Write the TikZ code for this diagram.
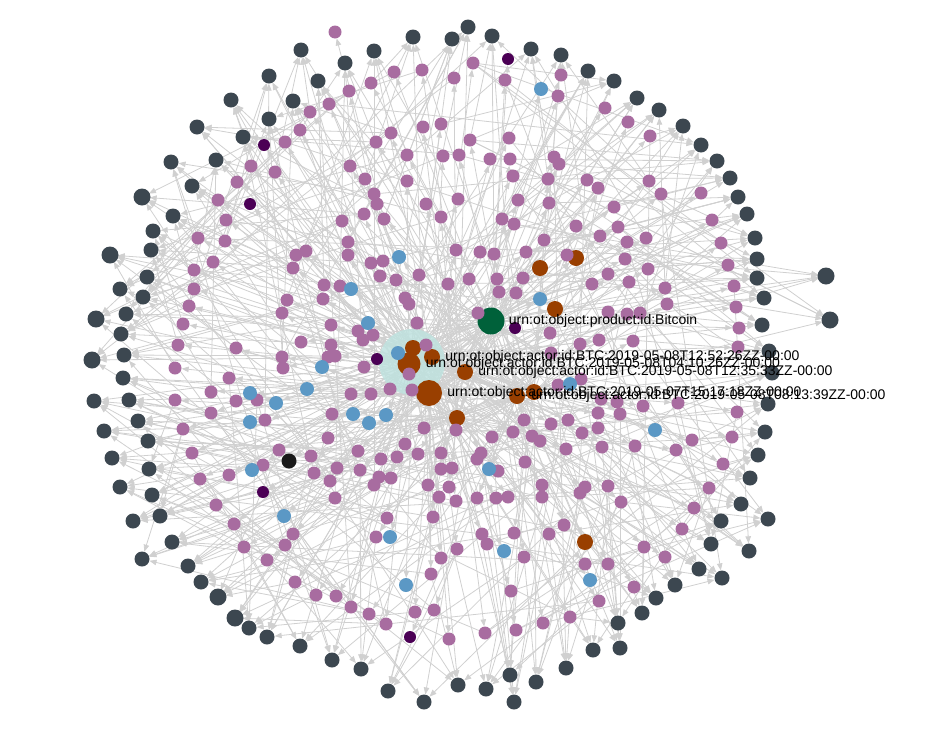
\documentclass[tikz,border=0pt]{standalone}
\usepackage{fontspec}
\setmainfont{Liberation Sans}
\definecolor{OTslate}{HTML}{3C4750}
\definecolor{OTmauve}{HTML}{A86CA0}
\definecolor{OTplum}{HTML}{4B0055}
\definecolor{OTblue}{HTML}{5B98C5}
\definecolor{OTrust}{HTML}{993F00}
\definecolor{OTgreen}{HTML}{00613A}
\definecolor{OTedge}{HTML}{D0D0D0}
\definecolor{OTglow}{HTML}{BFE2DF}
\usetikzlibrary{arrows.meta,positioning,backgrounds}

\begin{document}
\begin{tikzpicture}[x=1pt,y=-1pt,
  dot/.style={circle,inner sep=0pt,minimum size=#1},
  slate/.style={dot=15pt,fill=OTslate},
  bigslate/.style={dot=17pt,fill=OTslate},
  mauve/.style={dot=13pt,fill=OTmauve},
  plum/.style={dot=12pt,fill=OTplum},
  blue/.style={dot=14pt,fill=OTblue},
  rust/.style={dot=16pt,fill=OTrust},
  edge/.style={draw=OTedge,line width=0.8pt,-{Triangle[length=7pt,width=5.5pt]}},
  lbl/.style={inner sep=0pt,font=\fontsize{14}{16}\selectfont}]
  \useasboundingbox (0,0) rectangle (931,742);

  % glow round the actor hubs
  \node[dot=66pt,fill=OTglow,opacity=0.85] (glow) at (412,362) {};

  % hubs
  \node[rust] (h1) at (413,348) {};
  \node[rust] (h2) at (432,357) {};
  \node[rust,dot=23pt] (h3) at (409,364) {};
  \node[rust] (h4) at (465,372) {};
  \node[rust,dot=26pt] (h5) at (429,393) {};
  \node[rust] (h6) at (517,396) {};
  \node[rust] (h7) at (534,392) {};
  \node[rust] (h8) at (457,418) {};
  \node[dot=27pt,fill=OTgreen] (h9) at (491,321) {};
  \foreach \x/\y [count=\i] in {540/268,576/258,555/309,585/542}
    \node[rust] (r\i) at (\x,\y) {};

  % outer ring
  \foreach \x/\y [count=\i] in {301/50,374/51,413/37,452/39,468/27,345/63,318/81,269/76,231/100,293/101,
    269/119,197/127,243/137,171/162,216/160,192/186,142/197,173/216,153/231,151/250,110/255,147/277,
    120/289,143/297,126/314,96/319,121/334,124/355,92/360}
    \node[slate] (ga\i) at (\x,\y) {};
  \foreach \x/\y [count=\i] in {492/36,531/49,561/55,588/71,614/81,637/98,659/110,683/126,701/145,
    717/161,730/178,738/197,747/214,755/238,757/259,757/278,826/276,764/298,830/320,762/325,769/351}
    \node[slate] (gb\i) at (\x,\y) {};
  \foreach \x/\y [count=\i] in {123/378,94/401,129/400,138/421,104/431,148/441,112/458,149/469,120/487,
    152/495,160/516,133/521,172/542,142/559,188/566,201/582,218/597,235/618,249/628,267/637,300/646,
    332/660,361/669,388/691,424/702,458/685}
    \node[slate] (gc\i) at (\x,\y) {};
  \foreach \x/\y [count=\i] in {772/373,768/404,765/432,758/455,750/478,741/504,768/519,721/521,711/544,
    749/551,699/569,722/578,675/585,656/598,642/613,618/623,593/650,620/648,566/668,510/675,536/682,
    486/689,514/702}
    \node[slate] (gd\i) at (\x,\y) {};
  \foreach \n in {ga17,ga21,ga26,ga29,gb17,gb19,gc17,gc18}
    \node[bigslate] at (\n) {};

  % inner nodes
  \foreach \x/\y [count=\i] in {335/32,394/72,422/70,454/78,349/91,371/83,329/104,310/112,300/130,285/142,
    376/142,391/133,423/127,441/124,407/155,443/156,459/155,251/166,275/172,237/182,350/166,365/179,
    407/181,374/194,377/204,218/200,226/220,364/214,384/219,426/204,441/217,458/199,342/221,198/238,
    225/241,348/242,348/255,296/255,306/251,213/262,371/263,383/261,456/250,194/270,293/268,380/276,
    396/280,419/275,448/284,324/285,340/286,194/289,287/300,323/299,405/298,409/304,189/306,282/313,
    183/324,331/325,417/323,358/331,373/335,363/340,301/342,178/345,236/348,331/345,328/357,335/356,
    282/357,426/345,175/368,283/368,364/367}
    \node[mauve] (pa\i) at (\x,\y) {};
  \foreach \x/\y [count=\i] in {473/63,505/80,561/75,558/96,605/108,628/122,650/136,470/140,509/138,
    490/159,510/159,554/157,559/164,513/176,548/179,587/180,598/188,649/181,661/194,701/193,518/200,
    549/203,614/207,502/219,514/224,576/226,618/227,712/220,544/240,600/236,627/242,646/238,721/243,
    480/252,494/254,526/252,567/255,625/259,648/269,728/265,469/279,497/279,523/278,608/274,592/284,
    629/282,665/288,734/286,499/292,516/293,667/304,736/307,608/312,627/314,640/313,739/328,550/333,
    580/344,599/340,633/341,738/347,478/313,551/353}
    \node[mauve] (pb\i) at (\x,\y) {};
  \foreach \x/\y [count=\i] in {229/378,409/374,211/392,175/400,236/401,257/400,351/394,371/394,390/389,
    412/390,211/413,265/420,332/414,183/429,424/428,456/430,328/438,405/444,279/450,358/451,418/454,
    441/453,192/453,311/456,381/459,397/457,263/465,337/468,360/470,441/469,452/468,229/475,314/473,
    200/479,379/477,391/478,330/481,374/485,428/485,449/487,439/497,335/498,456/501,216/505,387/518,
    433/517,234/524,293/534,376/537,285/545,244/547,457/549,267/560,441/558,431/574,295/582,316/595,
    336/596,351/607,369/614,415/612,434/610,386/624,449/639}
    \node[mauve] (pc\i) at (\x,\y) {};
  \foreach \x/\y [count=\i] in {558/385,581/379,601/399,617/402,643/406,678/403,737/412,524/420,568/420,
    598/413,620/414,551/424,598/428,513/432,492/437,532/436,540/441,582/433,566/449,602/447,635/446,
    676/450,692/440,732/437,481/453,477/459,525/462,498/471,723/464,542/485,585/487,608/486,580/493,
    709/488,477/498,496/498,508/497,542/497,621/502,694/508,482/534,514/533,549/534,564/525,682/529,
    487/544,524/557,644/547,665/557,585/564,608/564,511/591,634/587,599/601,570/617,543/623,516/630,
    485/633}
    \node[mauve] (pd\i) at (\x,\y) {};
  \foreach \x/\y [count=\i] in {399/257,351/289,368/323,398/353,322/367,541/89,540/299,250/393,276/403,
    307/389,250/422,353/414,386/415,369/423,252/470,284/516,390/537,406/585,570/384,655/430,489/469,
    504/551,590/580}
    \node[blue] (u\i) at (\x,\y) {};
  \foreach \x/\y [count=\i] in {264/145,250/204,377/359,508/59,515/328,263/492,410/637}
    \node[plum] (k\i) at (\x,\y) {};
  \node[dot=15pt,fill=black!90] (ink) at (289,461) {};

  % connectors
  \begin{pgfonlayer}{background}
    \foreach \q/\n in {a/75,b/63,c/64,d/58}
      \foreach \i in {1,...,\n} {
        \pgfmathtruncatemacro\k{mod(\i*4,9)+1}
        \draw[edge] (h\k) -- (p\q\i);
      }
    \foreach \i in {1,...,23} {
      \pgfmathtruncatemacro\k{mod(\i*5,9)+1}
      \draw[edge] (h\k) -- (u\i);
    }
    \foreach \i in {1,...,7} {
      \pgfmathtruncatemacro\k{mod(\i*2,9)+1}
      \draw[edge] (h\k) -- (k\i);
    }
    \foreach \i in {1,...,4} \draw[edge] (h9) -- (r\i);
    \draw[edge] (h3) -- (ink);
    \foreach \q/\g/\n in {a/29/75,b/21/63,c/26/64,d/23/58}
      \foreach \i in {1,...,\g} {
        \pgfmathtruncatemacro\ja{mod(\i*7,\n)+1}
        \pgfmathtruncatemacro\jb{mod(\i*13+5,\n)+1}
        \pgfmathtruncatemacro\jc{mod(\i*23+11,\n)+1}
        \pgfmathtruncatemacro\k{mod(\i*5,9)+1}
        \draw[edge] (p\q\ja) -- (g\q\i);
        \draw[edge] (p\q\jb) -- (g\q\i);
        \draw[edge] (p\q\jc) -- (g\q\i);
        \draw[edge] (h\k) -- (g\q\i);
      }
    \foreach \q/\r/\g/\n in {a/c/29/64,b/a/21/75,c/d/26/58,d/b/23/63}
      \foreach \i in {1,...,\g} {
        \pgfmathtruncatemacro\j{mod(\i*17+3,\n)+1}
        \draw[edge] (p\r\j) -- (g\q\i);
      }
  \end{pgfonlayer}

  % labels
  \node[lbl,right=4pt of h9] (btc) {urn:ot:object:product:id:Bitcoin};
  \node[lbl,right=5pt of h2] (a1252) {urn:ot:object:actor:id:BTC:2019-05-08T12:52:26ZZ-00:00};
  \node[lbl,right=5pt of h3] (a0410) {urn:ot:object:actor:id:BTC:2019-05-08T04:10:26ZZ-00:00};
  \node[lbl,right=5pt of h4] (a1235) {urn:ot:object:actor:id:BTC:2019-05-08T12:35:33ZZ-00:00};
  \node[lbl,right=5pt of h5] (a1517) {urn:ot:object:actor:id:BTC:2019-05-07T15:17:18ZZ-00:00};
  \node[lbl,right=6pt of h6] (a0813) {urn:ot:object:actor:id:BTC:2019-05-08T08:13:39ZZ-00:00};
\end{tikzpicture}
\end{document}
